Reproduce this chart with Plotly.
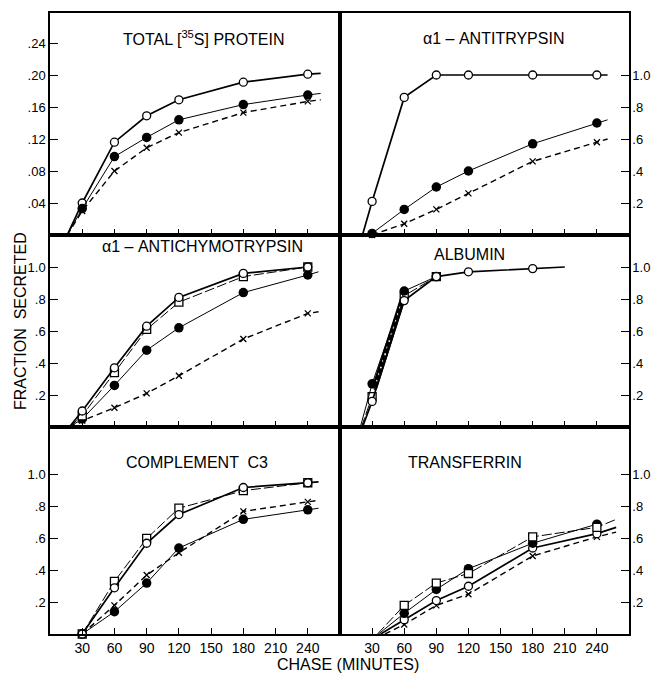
import plotly.graph_objects as go

W, H = 654, 673
FONT = "Liberation Sans"

TIMES = [30, 60, 90, 120, 180, 240]
X_TICKS = [30, 60, 90, 120, 150, 180, 210, 240]
X_TICK_TEXT = ["30", "60", "90", "120", "150", "180", "210", "240"]
Y_TICKS_TOTAL = [0.04, 0.08, 0.12, 0.16, 0.20, 0.24]
Y_TICK_TEXT_TOTAL = [".04", ".08", ".12", ".16", ".20", ".24"]
Y_TICKS_FRAC = [0.2, 0.4, 0.6, 0.8, 1.0]
Y_TICK_TEXT_FRAC = [".2", ".4", ".6", ".8", "1.0"]

TITLES = ["TOTAL [<sup>35</sup>S] PROTEIN", "α1 – ANTITRYPSIN", "α1 – ANTICHYMOTRYPSIN",
          "ALBUMIN", "COMPLEMENT  C3", "TRANSFERRIN"]

# ---- TOTAL [35S] PROTEIN (each curve: drawn-in start, data at TIMES, drawn-out tail)
total_open_x = [16, 30, 60, 90, 120, 180, 240, 252]
total_open_y = [0.0, 0.040, 0.116, 0.149, 0.169, 0.191, 0.201, 0.202]
total_filled_x = [16, 30, 60, 90, 120, 180, 240, 252]
total_filled_y = [0.0, 0.033, 0.098, 0.122, 0.144, 0.163, 0.175, 0.177]
total_cross_x = [16, 30, 60, 90, 120, 180, 240, 252]
total_cross_y = [0.0, 0.030, 0.080, 0.109, 0.128, 0.153, 0.167, 0.169]

# ---- α1-ANTITRYPSIN
at_open_x = [21, 30, 60, 90, 120, 180, 240, 250]
at_open_y = [0.0, 0.21, 0.86, 1.0, 1.0, 1.0, 1.0, 1.0]
at_filled_x = [28, 30, 60, 90, 120, 180, 240, 250]
at_filled_y = [0.0, 0.01, 0.16, 0.30, 0.40, 0.57, 0.70, 0.72]
at_cross_x = [30, 60, 90, 120, 180, 240, 250]
at_cross_y = [0.0, 0.07, 0.16, 0.26, 0.46, 0.58, 0.60]

# ---- α1-ANTICHYMOTRYPSIN
ac_open_x = [18, 30, 60, 90, 120, 180, 240]
ac_open_y = [0.0, 0.10, 0.37, 0.63, 0.81, 0.96, 1.0]
ac_square_x = [18, 30, 60, 90, 120, 180, 240]
ac_square_y = [0.0, 0.07, 0.34, 0.61, 0.78, 0.94, 1.0]
ac_filled_x = [18, 30, 60, 90, 120, 180, 240, 250]
ac_filled_y = [0.0, 0.05, 0.26, 0.48, 0.62, 0.84, 0.95, 0.97]
ac_cross_x = [18, 30, 60, 90, 120, 180, 240, 250]
ac_cross_y = [0.0, 0.04, 0.12, 0.21, 0.32, 0.55, 0.71, 0.72]

# ---- ALBUMIN
alb_open_x = [21, 30, 60, 90, 120, 180, 210]
alb_open_y = [0.0, 0.16, 0.79, 0.94, 0.97, 0.99, 1.0]
alb_square_x = [20, 30, 60, 90]
alb_square_y = [0.0, 0.19, 0.82, 0.94]
alb_filled_x = [19, 30, 60, 90]
alb_filled_y = [0.0, 0.27, 0.85, 0.94]
alb_band_x = [32, 59]          # overlapping curves drawn as one heavy band
alb_band_y = [0.24, 0.81]

# ---- COMPLEMENT C3
c3_open_x = [30, 60, 90, 120, 180, 240, 250]
c3_open_y = [0.0, 0.29, 0.57, 0.75, 0.92, 0.95, 0.955]
c3_square_x = [30, 60, 90, 120, 180, 240]
c3_square_y = [0.0, 0.33, 0.60, 0.79, 0.90, 0.95]
c3_cross_x = [30, 60, 90, 120, 180, 240, 250]
c3_cross_y = [0.0, 0.18, 0.37, 0.51, 0.77, 0.83, 0.84]
c3_filled_x = [30, 60, 90, 120, 180, 240, 250]
c3_filled_y = [0.0, 0.14, 0.32, 0.54, 0.72, 0.78, 0.79]

# ---- TRANSFERRIN
tf_square_x = [35, 60, 90, 120, 180, 240, 258]
tf_square_y = [0.0, 0.18, 0.32, 0.38, 0.61, 0.67, 0.72]
tf_filled_x = [36, 60, 90, 120, 180, 240]
tf_filled_y = [0.0, 0.13, 0.28, 0.41, 0.57, 0.69]
tf_open_x = [38, 60, 90, 120, 180, 240, 258]
tf_open_y = [0.0, 0.09, 0.21, 0.30, 0.54, 0.63, 0.67]
tf_cross_x = [42, 60, 90, 120, 180, 240, 258]
tf_cross_y = [0.0, 0.06, 0.18, 0.25, 0.49, 0.61, 0.64]

# ---------------- styles
STYLE = {
    "open":   dict(line=dict(color="black", width=1.7, dash="solid"),
                   marker=dict(symbol="circle", size=8)),
    "filled": dict(line=dict(color="black", width=1.0, dash="solid"),
                   marker=dict(symbol="circle", size=9.5, color="black")),
    "cross":  dict(line=dict(color="black", width=1.4, dash="6px,4px"),
                   marker=dict(symbol="x-thin-open", size=6, color="black", line=dict(width=1.3))),
    "square": dict(line=dict(color="black", width=1.0, dash="10px,3px"),
                   marker=dict(symbol="square", size=8)),
}

PANELS = [
    [("open", total_open_x, total_open_y), ("filled", total_filled_x, total_filled_y),
     ("cross", total_cross_x, total_cross_y)],
    [("open", at_open_x, at_open_y), ("filled", at_filled_x, at_filled_y),
     ("cross", at_cross_x, at_cross_y)],
    [("cross", ac_cross_x, ac_cross_y), ("filled", ac_filled_x, ac_filled_y),
     ("square", ac_square_x, ac_square_y), ("open", ac_open_x, ac_open_y)],
    [("square", alb_square_x, alb_square_y), ("filled", alb_filled_x, alb_filled_y),
     ("open", alb_open_x, alb_open_y)],
    [("filled", c3_filled_x, c3_filled_y), ("cross", c3_cross_x, c3_cross_y),
     ("square", c3_square_x, c3_square_y), ("open", c3_open_x, c3_open_y)],
    [("cross", tf_cross_x, tf_cross_y), ("open", tf_open_x, tf_open_y),
     ("filled", tf_filled_x, tf_filled_y), ("square", tf_square_x, tf_square_y)],
]

# panel frames in pixels: (left, right, top, bottom)
COLS = [(50, 340), (340, 629)]
ROWS = [(13, 235), (235, 427), (427, 634)]
Y_RANGES = [(0, 0.2775), (0, 1.3875), (0, 1.2), (0, 1.2), (0, 1.3), (0, 1.3)]
TITLE_POS = [(204, 38), (494, 38), (202, 246), (470, 254), (197, 462), (465, 462)]

fig = go.Figure()
layout = dict(
    width=W, height=H, margin=dict(l=0, r=0, t=0, b=0),
    paper_bgcolor="white", plot_bgcolor="white", showlegend=False,
    font=dict(family=FONT, color="black", size=14),
)
annotations = []


def add_series(kind, xs, ys, xa, ya):
    st = STYLE[kind]
    fig.add_trace(go.Scatter(x=xs, y=ys, mode="lines", line=st["line"],
                             xaxis=xa, yaxis=ya, hoverinfo="skip"))
    mx = [x for x in xs if x in TIMES]
    my = [y for x, y in zip(xs, ys) if x in TIMES]
    mk = st["marker"]
    if kind in ("open", "square"):
        marker = dict(symbol=mk["symbol"], size=mk["size"], color="white",
                      line=dict(color="black", width=1.3))
    else:
        marker = mk
    fig.add_trace(go.Scatter(x=mx, y=my, mode="markers", marker=marker,
                             xaxis=xa, yaxis=ya, cliponaxis=False))


for i, series in enumerate(PANELS):
    r, c = divmod(i, 2)
    xa = "x" if i == 0 else f"x{i+1}"
    ya = "y" if i == 0 else f"y{i+1}"
    if i == 3:
        fig.add_trace(go.Scatter(x=alb_band_x, y=alb_band_y, mode="lines",
                                 line=dict(color="black", width=5.5), xaxis=xa, yaxis=ya))
        fig.add_trace(go.Scatter(x=alb_band_x, y=alb_band_y, mode="lines",
                                 line=dict(color="white", width=1.5, dash="2px,5px"),
                                 xaxis=xa, yaxis=ya))
    for kind, xs, ys in series:
        add_series(kind, xs, ys, xa, ya)

    l, rr = COLS[c]
    t, b = ROWS[r]
    xkey = "xaxis" if i == 0 else f"xaxis{i+1}"
    ykey = "yaxis" if i == 0 else f"yaxis{i+1}"
    layout[xkey] = dict(
        domain=[l / W, rr / W], range=[0, 270], anchor=ya,
        showline=True, mirror=True, linecolor="black", linewidth=1.5,
        ticks="inside", ticklen=6, tickwidth=1.1, tickcolor="black",
        tickvals=X_TICKS, ticktext=X_TICK_TEXT, showticklabels=(r == 2),
        tickfont=dict(size=14, family=FONT), showgrid=False, zeroline=False,
    )
    layout[ykey] = dict(
        domain=[1 - b / H, 1 - t / H], range=list(Y_RANGES[i]), anchor=xa,
        side="left" if c == 0 else "right",
        showline=True, mirror=True, linecolor="black", linewidth=1.5,
        ticks="inside", ticklen=8, tickwidth=1.1, tickcolor="black",
        tickvals=Y_TICKS_TOTAL if i == 0 else Y_TICKS_FRAC,
        ticktext=Y_TICK_TEXT_TOTAL if i == 0 else Y_TICK_TEXT_FRAC,
        tickfont=dict(size=13, family=FONT), showgrid=False, zeroline=False,
        ticklabelstandoff=-1 if c == 1 else 0,
    )
    tx, ty = TITLE_POS[i]
    annotations.append(dict(text=TITLES[i], x=tx / W, y=1 - ty / H, xref="paper", yref="paper",
                            showarrow=False, font=dict(size=16, family=FONT), xanchor="center",
                            yanchor="middle"))

annotations.append(dict(text="FRACTION  SECRETED", x=20 / W, y=1 - 321 / H, xref="paper", yref="paper",
                        showarrow=False, textangle=-90, font=dict(size=16, family=FONT),
                        xanchor="center", yanchor="middle"))
annotations.append(dict(text="CHASE (MINUTES)", x=348 / W, y=1 - 664 / H, xref="paper", yref="paper",
                        showarrow=False, font=dict(size=16, family=FONT),
                        xanchor="center", yanchor="middle"))
layout["annotations"] = annotations
fig.update_layout(**layout)
fig.write_html("out.html", config={"displayModeBar": False},
               post_script="document.body.style.margin='0';document.body.style.padding='0';")
